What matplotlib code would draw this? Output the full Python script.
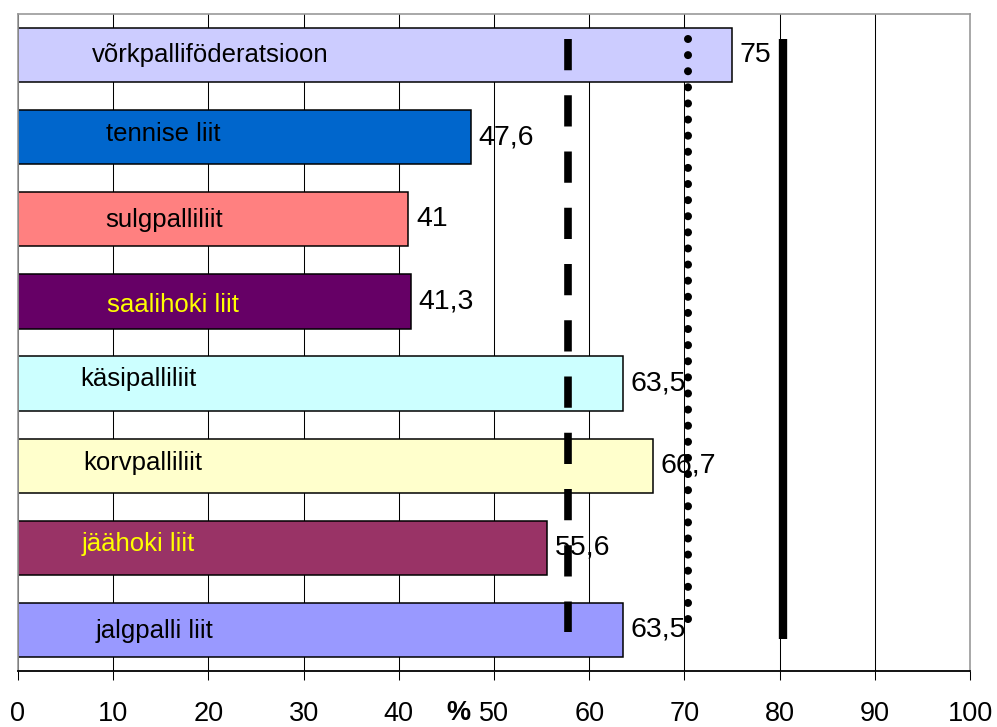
import matplotlib
matplotlib.use("Agg")
import matplotlib.pyplot as plt

plt.rcParams['font.family'] = ['Liberation Sans', 'DejaVu Sans']
plt.rcParams['lines.scale_dashes'] = False

# data (top to bottom)
federations = ["võrkpalliföderatsioon", "tennise liit", "sulgpalliliit", "saalihoki liit",
               "käsipalliliit", "korvpalliliit", "jäähoki liit", "jalgpalli liit"]
values = [75, 47.6, 41, 41.3, 63.5, 66.7, 55.6, 63.5]
value_labels = ["75", "47,6", "41", "41,3", "63,5", "66,7", "55,6", "63,5"]
bar_colors = ["#CCCCFF", "#0066CC", "#FF8080", "#660066",
              "#CCFFFF", "#FFFFCC", "#993366", "#9999FF"]
text_colors = ["black", "black", "black", "#FFFF00",
               "black", "black", "#FFFF00", "black"]
# where the name sits inside each bar (x in %, small y shift)
name_x = [7.8, 9.2, 9.2, 9.3, 6.5, 6.9, 6.7, 8.2]
name_dy = [0.0, -0.037, 0.012, 0.037, -0.06, -0.037, -0.049, 0.012]

# reference lines: dashed, dotted, solid
ref_values = [57.8, 70.4, 80.4]

xticks = list(range(0, 101, 10))

fig = plt.figure(figsize=(9.97, 7.27), dpi=100)
ax = fig.add_axes([0.01805, 0.0770, 0.9549, 0.9037])

ypos = list(range(len(federations)))
ax.barh(ypos, values, height=0.66, color=bar_colors, edgecolor="black",
        linewidth=1.1, zorder=2)

for i in ypos:
    ax.text(name_x[i], i + name_dy[i], federations[i], color=text_colors[i],
            fontsize=18.5, va="center", ha="left", zorder=3)
    ax.text(values[i] + 0.8, i, value_labels[i], fontsize=20.5,
            va="center", ha="left", zorder=3)

# average lines
ax.plot([ref_values[0]] * 2, [-0.195, 7.03], color="black", lw=5.5,
        linestyle=(0, (22.5, 18)), solid_capstyle="butt", dash_capstyle="butt", zorder=4)
ax.plot([ref_values[1]] * 2, [-0.195, 6.95], color="black", lw=5.8,
        linestyle=(0, (0.001, 11.6)), dash_capstyle="round", zorder=4)
ax.plot([ref_values[2]] * 2, [-0.195, 7.11], color="black", lw=6,
        solid_capstyle="butt", zorder=4)

ax.set_xlim(0, 100)
ax.set_ylim(len(federations) - 0.5, -0.5)
ax.set_xticks(xticks)
ax.set_xticklabels([str(t) for t in xticks], fontsize=19.5)
ax.set_yticks([])
ax.tick_params(axis="x", direction="out", length=6.5, width=0.75, pad=15)
ax.xaxis.grid(True, color="black", linewidth=0.75, zorder=1)
ax.set_axisbelow(True)

for side in ["left", "top", "right"]:
    ax.spines[side].set_color("#999999")
    ax.spines[side].set_linewidth(1.2)
ax.spines["bottom"].set_color("black")
ax.spines["bottom"].set_linewidth(1.3)

ax.text(46.3, -0.075, "%", transform=ax.get_xaxis_transform(), fontsize=19.5,
        fontweight="bold", ha="center", va="baseline")

fig.savefig("out.png", dpi=100)
